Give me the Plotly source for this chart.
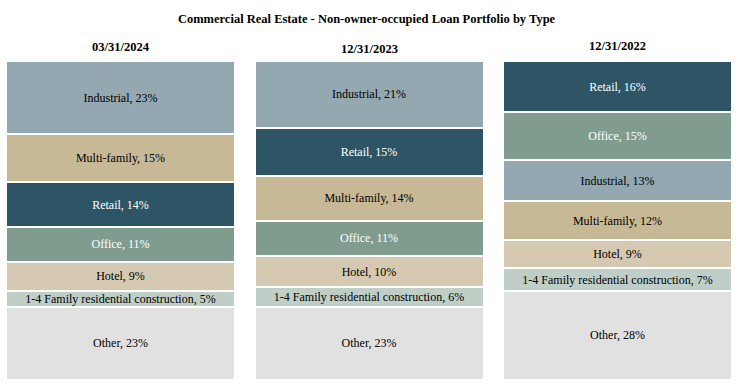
import plotly.graph_objects as go

title = "Commercial Real Estate - Non-owner-occupied Loan Portfolio by Type"
dates = ["03/31/2024", "12/31/2023", "12/31/2022"]

# segment order listed top -> bottom for each column
col_2024_labels = ["Industrial", "Multi-family", "Retail", "Office", "Hotel",
                   "1-4 Family residential construction", "Other"]
col_2024_values = [23, 15, 14, 11, 9, 5, 23]

col_2023_labels = ["Industrial", "Retail", "Multi-family", "Office", "Hotel",
                   "1-4 Family residential construction", "Other"]
col_2023_values = [21, 15, 14, 11, 10, 6, 23]

col_2022_labels = ["Retail", "Office", "Industrial", "Multi-family", "Hotel",
                   "1-4 Family residential construction", "Other"]
col_2022_values = [16, 15, 13, 12, 9, 7, 28]

colors = {
    "Industrial": "#93A8B0",
    "Multi-family": "#C8B996",
    "Retail": "#2D5566",
    "Office": "#7F9C8F",
    "Hotel": "#D5CAB1",
    "1-4 Family residential construction": "#BFCFC8",
    "Other": "#E1E1E1",
}
white_text = {"Retail", "Office"}

columns = [
    (col_2024_labels, col_2024_values),
    (col_2023_labels, col_2023_values),
    (col_2022_labels, col_2022_values),
]

fig = go.Figure()
for ci, (labels, values) in enumerate(columns):
    # add bottom first so stacking follows top->bottom listing
    for lab, val in reversed(list(zip(labels, values))):
        fig.add_trace(go.Bar(
            x=[ci], y=[val], width=0.9215,
            marker=dict(color=colors[lab], line=dict(color="white", width=2)),
            text=[f"{lab}, {val}%"],
            textposition="inside", insidetextanchor="middle",
            textfont=dict(family="Liberation Serif", size=12,
                          color="white" if lab in white_text else "black"),
            hoverinfo="skip", showlegend=False,
        ))

date_y = [5, 3, 6]
for ci, d in enumerate(dates):
    fig.add_annotation(x=ci, y=1, xref="x", yref="paper", text=f"<b>{d}</b>",
                       showarrow=False, yanchor="bottom", yshift=date_y[ci],
                       font=dict(family="Liberation Serif", size=12.5, color="black"))

fig.update_layout(
    barmode="stack",
    width=739, height=387,
    margin=dict(l=0, r=0, t=61, b=7),
    paper_bgcolor="white", plot_bgcolor="white",
    title=dict(text=f"<b>{title}</b>", x=0.496, xanchor="center", y=0.953, yanchor="middle",
               font=dict(family="Liberation Serif", size=12.5, color="black")),
    uniformtext=dict(minsize=12, mode="show"),
    xaxis=dict(range=[-0.4849, 2.4889], visible=False, fixedrange=True),
    yaxis=dict(range=[0, 100], visible=False, fixedrange=True),
)

fig.write_html("out.html", config={"displayModeBar": False},
               post_script="document.body.style.margin='0';document.body.style.padding='0';")
